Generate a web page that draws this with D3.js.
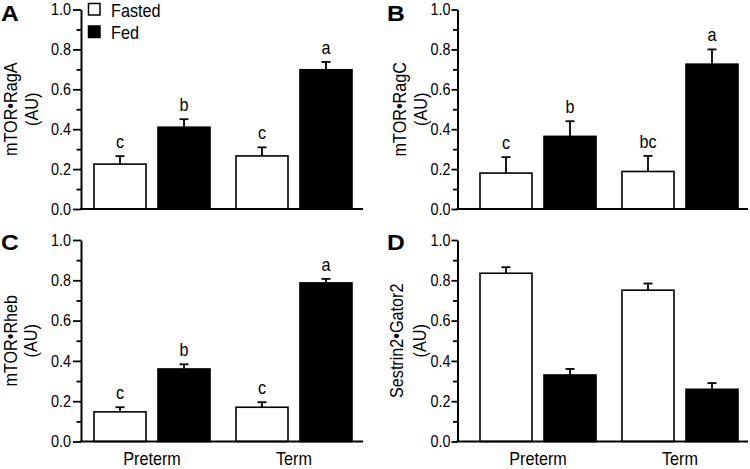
<!DOCTYPE html>
<html><head><meta charset="utf-8">
<script src="https://cdn.jsdelivr.net/npm/d3@7"></script>
<style>
html,body{margin:0;padding:0;background:#fff;}
svg{display:block;font-family:"Liberation Sans",Arial,Helvetica,sans-serif;}
</style></head>
<body>
<svg id="chart" width="750" height="469"></svg>
<script>
const groups = ["Preterm", "Term"];
const series = ["Fasted", "Fed"];
const yTicks = [0.0, 0.2, 0.4, 0.6, 0.8, 1.0];
const yMinorTicks = [0.1, 0.3, 0.5, 0.7, 0.9];

// Panel A: mTOR•RagA
const ragAFasted = [0.225, 0.266];
const ragAFastedSE = [0.040, 0.043];
const ragAFed = [0.410, 0.698];
const ragAFedSE = [0.040, 0.039];
const ragAFastedLetters = ["c", "c"];
const ragAFedLetters = ["b", "a"];

// Panel B: mTOR•RagC
const ragCFasted = [0.180, 0.188];
const ragCFastedSE = [0.080, 0.078];
const ragCFed = [0.364, 0.726];
const ragCFedSE = [0.076, 0.074];
const ragCFastedLetters = ["c", "bc"];
const ragCFedLetters = ["b", "a"];

// Panel C: mTOR•Rheb
const rhebFasted = [0.147, 0.170];
const rhebFastedSE = [0.023, 0.025];
const rhebFed = [0.360, 0.787];
const rhebFedSE = [0.023, 0.020];
const rhebFastedLetters = ["c", "c"];
const rhebFedLetters = ["b", "a"];

// Panel D: Sestrin2•Gator2
const sesFasted = [0.835, 0.751];
const sesFastedSE = [0.030, 0.033];
const sesFed = [0.330, 0.259];
const sesFedSE = [0.030, 0.031];
const sesFastedLetters = ["", ""];
const sesFedLetters = ["", ""];

const panels = [
  {letter:"A", label:["mTOR•RagA","(AU)"], fasted:ragAFasted, fastedSE:ragAFastedSE, fed:ragAFed, fedSE:ragAFedSE,
   fL:ragAFastedLetters, dL:ragAFedLetters, axisX:81, axisEnd:363, barStart:94, barEnd:352, y0:209, y1:9.5,
   letterX:1, letterY:20.5, labX:[17,37.5], legend:true, xlabels:false, tick:8, pad:2},
  {letter:"B", label:["mTOR•RagC","(AU)"], fasted:ragCFasted, fastedSE:ragCFastedSE, fed:ragCFed, fedSE:ragCFedSE,
   fL:ragCFastedLetters, dL:ragCFedLetters, axisX:457.5, axisEnd:748, barStart:480, barEnd:738, y0:209, y1:9.5,
   letterX:387, letterY:20.5, labX:[406,426.5], legend:false, xlabels:false, tick:6, pad:1},
  {letter:"C", label:["mTOR•Rheb","(AU)"], fasted:rhebFasted, fastedSE:rhebFastedSE, fed:rhebFed, fedSE:rhebFedSE,
   fL:rhebFastedLetters, dL:rhebFedLetters, axisX:81, axisEnd:363, barStart:94, barEnd:352, y0:441.5, y1:240,
   letterX:1, letterY:250, labX:[16.5,37], legend:false, xlabels:true, tick:8, pad:2},
  {letter:"D", label:["Sestrin2•Gator2","(AU)"], fasted:sesFasted, fastedSE:sesFastedSE, fed:sesFed, fedSE:sesFedSE,
   fL:sesFastedLetters, dL:sesFedLetters, axisX:457.5, axisEnd:748, barStart:480, barEnd:738, y0:441.5, y1:240,
   letterX:387, letterY:250, labX:[403,426], legend:false, xlabels:true, tick:6, pad:1}
];

const FS = 18, SX = 0.9;       // condensed text look
const TFS = 16, TSX = 0.9;     // tick labels

function ctext(parent, x, y, txt, anchor, rot) {
  return parent.append("text")
    .attr("transform", `translate(${x},${y})${rot ? " rotate(-90)" : ""} scale(${SX},1)`)
    .attr("text-anchor", anchor || "start")
    .attr("font-size", FS).attr("fill", "#000").text(txt);
}

const svg = d3.select("#chart");

panels.forEach(p => {
  const g = svg.append("g");
  const y = d3.scaleLinear().domain([0, 1]).range([p.y0, p.y1]);
  const x0 = d3.scaleBand().domain(groups).range([p.barStart, p.barEnd]).paddingInner(0.183).paddingOuter(0);
  const x1 = d3.scaleBand().domain(series).range([0, x0.bandwidth()]).paddingInner(0.1875).paddingOuter(0);

  const rows = [];
  groups.forEach((grp, i) => {
    rows.push({grp, s:"Fasted", v:p.fasted[i], se:p.fastedSE[i], lab:p.fL[i]});
    rows.push({grp, s:"Fed", v:p.fed[i], se:p.fedSE[i], lab:p.dL[i]});
  });

  // error bars (upward only) + significance letters
  rows.forEach(r => {
    const cx = x0(r.grp) + x1(r.s) + x1.bandwidth() / 2;
    g.append("line").attr("x1", cx).attr("x2", cx).attr("y1", y(r.v)).attr("y2", y(r.v + r.se))
      .attr("stroke", "#000").attr("stroke-width", 1.8);
    g.append("line").attr("x1", cx - 4.5).attr("x2", cx + 4.5).attr("y1", y(r.v + r.se)).attr("y2", y(r.v + r.se))
      .attr("stroke", "#000").attr("stroke-width", 1.8);
    if (r.lab) ctext(g, cx, y(r.v + r.se) - 8, r.lab, "middle");
  });

  g.selectAll("rect.bar").data(rows).enter().append("rect").attr("class", "bar")
    .attr("x", d => x0(d.grp) + x1(d.s))
    .attr("width", x1.bandwidth())
    .attr("y", d => y(d.v))
    .attr("height", d => y(0) - y(d.v))
    .attr("fill", d => d.s === "Fasted" ? "#fff" : "#000")
    .attr("stroke", "#000").attr("stroke-width", 1.6);

  // y axis
  const yAxis = d3.axisLeft(y).tickValues(yTicks).tickFormat(d3.format(".1f"))
    .tickSize(p.tick).tickPadding(p.pad).tickSizeOuter(0);
  const ya = g.append("g").attr("transform", `translate(${p.axisX},0)`).call(yAxis);
  ya.select(".domain").attr("stroke-width", 2);
  ya.selectAll(".tick line").attr("stroke-width", 1.8);
  ya.selectAll(".tick text")
    .attr("font-size", TFS).attr("font-family", "Liberation Sans, Arial, sans-serif").attr("fill", "#000")
    .attr("x", -(p.tick + p.pad) / TSX).attr("transform", `scale(${TSX},1)`);
  const yMinor = d3.axisLeft(y).tickValues(yMinorTicks).tickFormat("").tickSize(4.5).tickSizeOuter(0);
  const ym = g.append("g").attr("transform", `translate(${p.axisX},0)`).call(yMinor);
  ym.select(".domain").remove();
  ym.selectAll(".tick line").attr("stroke-width", 1.8);

  // x axis line
  g.append("line").attr("x1", p.axisX - 1).attr("x2", p.axisEnd).attr("y1", y(0)).attr("y2", y(0))
    .attr("stroke", "#000").attr("stroke-width", 2);

  if (p.xlabels) {
    groups.forEach(grp => ctext(g, x0(grp) + x0.bandwidth() / 2, 465, grp, "middle"));
  }

  // y label (two lines, rotated)
  const cy = (p.y0 + p.y1) / 2;
  p.label.forEach((t, i) => ctext(g, p.labX[i], cy, t, "middle", true));

  // panel letter
  g.append("text").attr("transform", `translate(${p.letterX},${p.letterY}) scale(1.12,1)`)
    .attr("font-size", 22).attr("font-weight", "bold")
    .attr("fill", "#000").text(p.letter);

  if (p.legend) {
    const lg = g.append("g");
    series.forEach((s, i) => {
      lg.append("rect").attr("x", 88.5).attr("y", 3.5 + i * 22.5).attr("width", 11.5).attr("height", 11.5)
        .attr("fill", s === "Fasted" ? "#fff" : "#000").attr("stroke", "#000").attr("stroke-width", 1.5);
      ctext(lg, 111, 16.8 + i * 22.5, s, "start");
    });
  }
});
</script>
</body></html>
